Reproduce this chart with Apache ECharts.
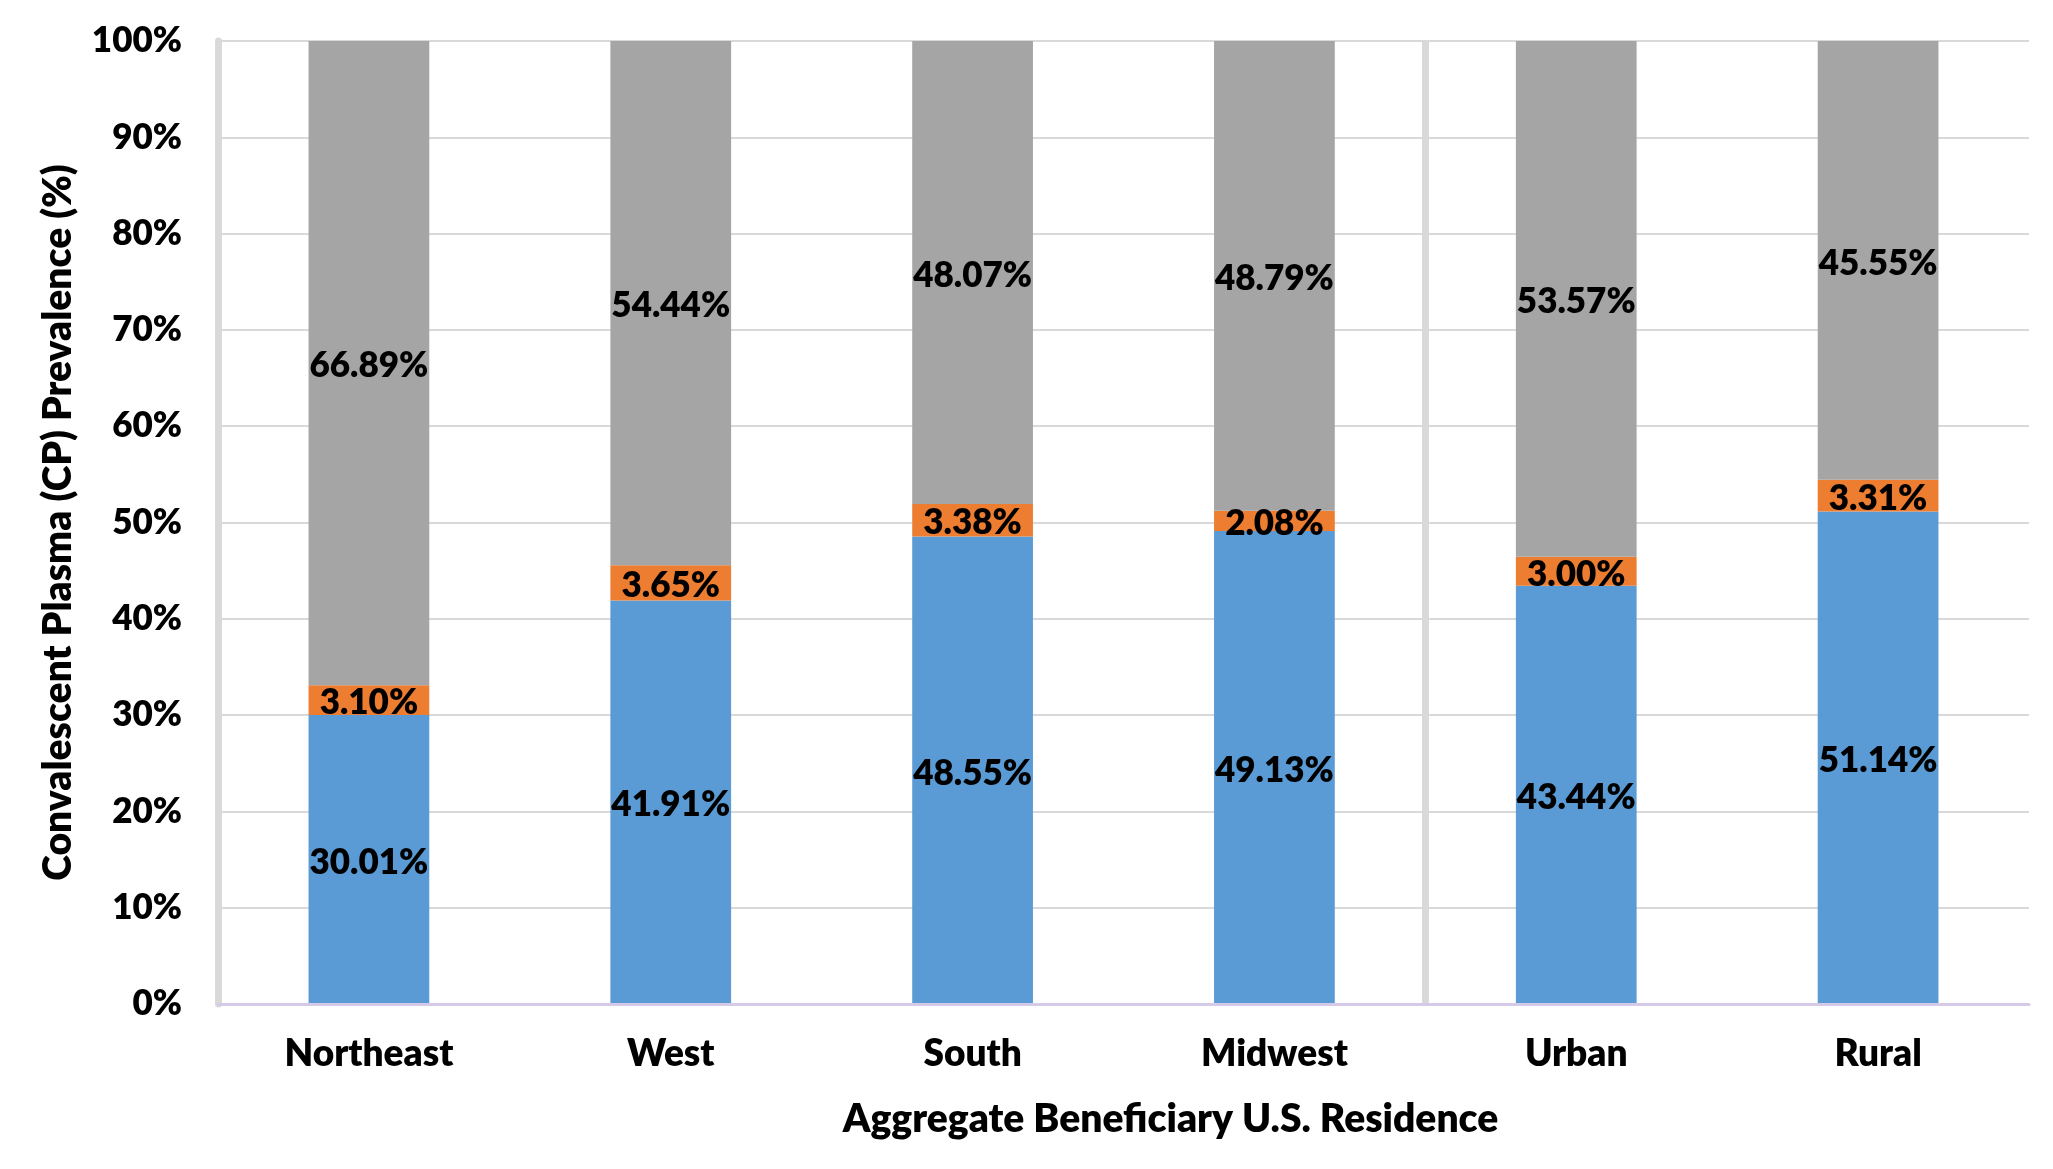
<!DOCTYPE html>
<html>
<head>
<meta charset="utf-8">
<script src="https://cdn.jsdelivr.net/npm/echarts@6/dist/echarts.min.js"></script>
<style>
html,body{margin:0;padding:0;background:#fff;}
#chart{width:2053px;height:1169px;}
</style>
</head>
<body>
<div id="chart"></div>
<script>
var categories = ['Northeast', 'West', 'South', 'Midwest', 'Urban', 'Rural'];
var bottomValues = [30.01, 41.91, 48.55, 49.13, 43.44, 51.14];
var middleValues = [3.10, 3.65, 3.38, 2.08, 3.00, 3.31];
var topValues = [66.89, 54.44, 48.07, 48.79, 53.57, 45.55];
var yTicks = [0, 10, 20, 30, 40, 50, 60, 70, 80, 90, 100];
var separatorAt = [4];

var FONT = 'Lato';
var WEIGHT = 800;
var chart = echarts.init(document.getElementById('chart'));

function lbl() {
  return {
    show: true,
    position: 'inside',
    offset: [0, 3],
    color: '#000',
    fontFamily: FONT,
    fontWeight: WEIGHT,
    fontSize: 35,
    formatter: function (p) { return p.value.toFixed(2) + '%'; }
  };
}

var option = {
  animation: false,
  backgroundColor: '#fff',
  grid: { left: 218, right: 24, top: 41, bottom: 165, containLabel: false },
  xAxis: [{
    type: 'category',
    data: categories,
    axisLine: { show: true, lineStyle: { color: '#d5cbe8', width: 3 } },
    axisTick: { show: false },
    axisLabel: { color: '#000', fontFamily: FONT, fontWeight: WEIGHT, fontSize: 37, margin: 32 },
    name: 'Aggregate Beneficiary U.S. Residence',
    nameLocation: 'middle',
    nameGap: 96,
    nameTextStyle: { color: '#000', fontFamily: FONT, fontWeight: WEIGHT, fontSize: 39, padding: [0, 0, 0, 94] },
    z: 5
  }, {
    type: 'value',
    min: 0,
    max: categories.length,
    show: false
  }],
  yAxis: {
    type: 'value',
    min: yTicks[0],
    max: yTicks[yTicks.length - 1],
    interval: 10,
    axisLine: { show: true, lineStyle: { color: '#d9d9d9', width: 7 } },
    axisTick: { show: false },
    splitLine: { show: true, lineStyle: { color: '#d9d9d9', width: 2 } },
    axisLabel: { color: '#000', fontFamily: FONT, fontWeight: WEIGHT, fontSize: 35, margin: 36,
      formatter: function (v) { return v + '%'; } },
    name: 'Convalescent Plasma (CP) Prevalence (%)',
    nameLocation: 'middle',
    nameGap: 140,
    nameTextStyle: { color: '#000', fontFamily: FONT, fontWeight: WEIGHT, fontSize: 39 }
  },
  series: [{
    type: 'bar', stack: 'cp', data: bottomValues, barWidth: '40%',
    itemStyle: { color: '#5b9bd5' }, label: lbl()
  }, {
    type: 'bar', stack: 'cp', data: middleValues, barWidth: '40%',
    itemStyle: { color: '#ed7d31' }, label: lbl()
  }, {
    type: 'bar', stack: 'cp', data: topValues, barWidth: '40%',
    itemStyle: { color: '#a5a5a5' }, label: lbl()
  }, {
    type: 'line', xAxisIndex: 1, data: [], silent: true,
    markLine: {
      symbol: 'none', silent: true, label: { show: false },
      lineStyle: { color: '#d9d9d9', width: 7, type: 'solid' },
      data: separatorAt.map(function (v) { return { xAxis: v }; })
    }
  }]
};
chart.setOption(option);
</script>
</body>
</html>
